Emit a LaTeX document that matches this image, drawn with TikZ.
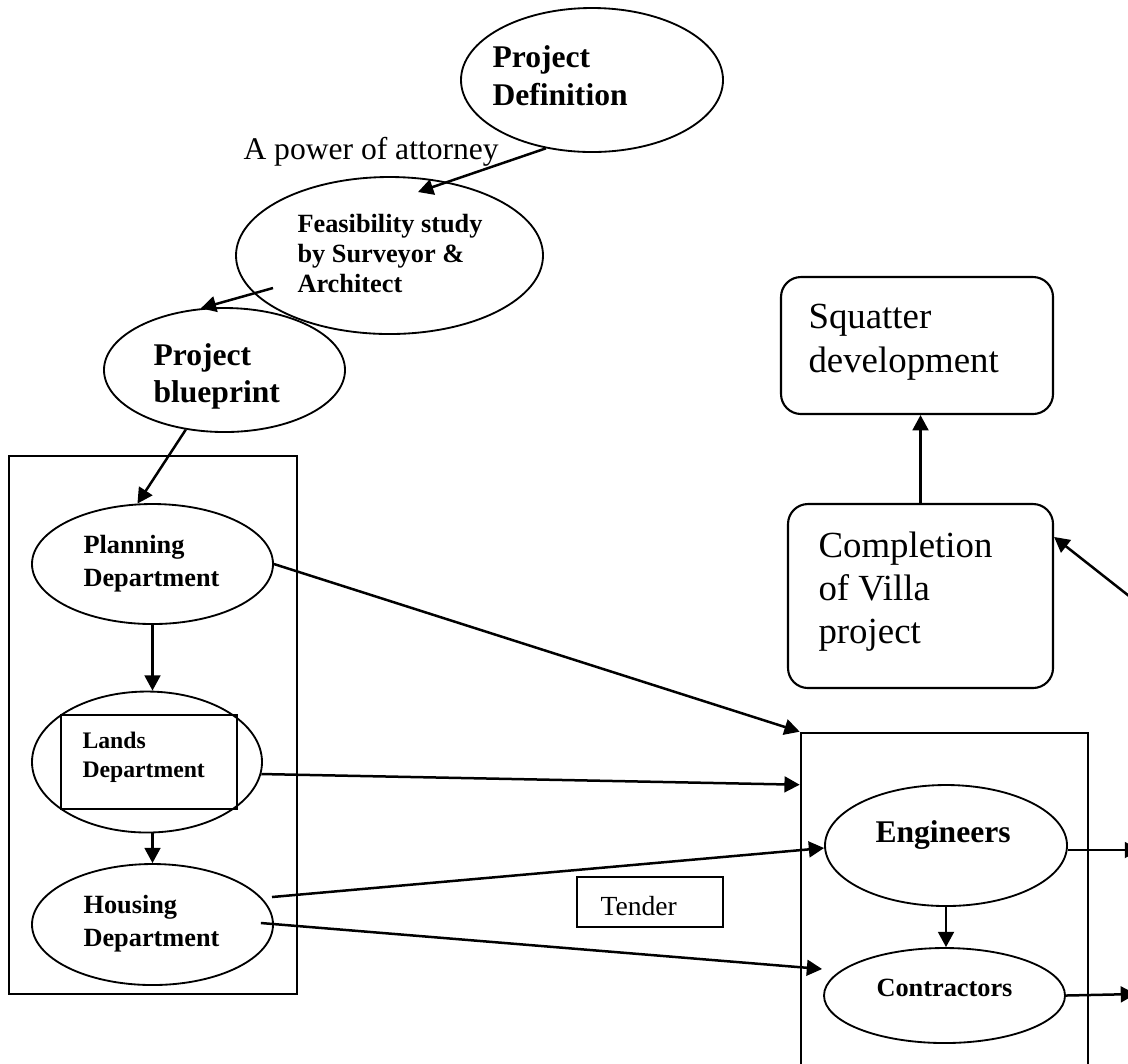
\documentclass[tikz,border=0pt]{standalone}
\usepackage{fontspec}
\setmainfont{Liberation Serif}
\usetikzlibrary{arrows.meta, shapes.geometric, calc}

\begin{document}
\begin{tikzpicture}[x=0.38pt, y=-0.38pt,
		>={Triangle[length=5.8pt,width=6pt]}, %Pfeilspitzen
		ovalnode/.style 2 args={draw, ellipse, line width=0.7pt, inner sep=0pt, minimum width=#1*0.38pt, minimum height=#2*0.38pt},
		framebox/.style 2 args={draw, rectangle, line width=1pt, inner sep=0pt, minimum width=#1*0.38pt, minimum height=#2*0.38pt},
		roundbox/.style 2 args={framebox={#1}{#2}, rounded corners=7.6pt, line width=0.8pt},
		txt/.style={anchor=base west, inner sep=0pt, align=left},
		conn/.style={->, line width=0.95pt}]
		%Bildbereich
		\useasboundingbox (0,0) rectangle (1128,1063);
		\clip (0,0) rectangle (1128,1063);
		%Projekt oben
		\node[ovalnode={262}{144}] (pdef) at (592,80) {};
		\node[txt, font=\bfseries\fontsize{12}{14.4}\selectfont] (pdef-t) at (492,105) {Project\\Definition};
		\node[txt, font=\fontsize{12}{14.4}\selectfont] (poa) at (243,159) {A power of attorney};
		\node[ovalnode={307}{157}] (feas) at (389.5,255.5) {};
		\node[txt, font=\bfseries\fontsize{10}{11.4}\selectfont] (feas-t) at (297,292) {Feasibility study\\by Surveyor \&\\Architect};
		\node[ovalnode={241}{124}] (blue) at (224.5,370) {};
		\node[txt, font=\bfseries\fontsize{12}{14}\selectfont] (blue-t) at (153,402) {Project\\blueprint};
		%Behoerden links
		\node[framebox={288}{538}] (dept) at (153,725) {};
		\node[ovalnode={241}{120}] (plan) at (152.5,564) {};
		\node[txt, font=\bfseries\fontsize{10}{12.5}\selectfont] (plan-t) at (83,586) {Planning\\Department};
		\node[ovalnode={230}{141}] (lands) at (147,762) {};
		\node[framebox={176}{94}] (lands-r) at (149,762) {};
		\node[txt, font=\bfseries\fontsize{9}{11}\selectfont] (lands-t) at (82,777) {Lands\\Department};
		\node[ovalnode={241}{121}] (hous) at (152.5,924.5) {};
		\node[txt, font=\bfseries\fontsize{10}{12.2}\selectfont] (hous-t) at (83,946) {Housing\\Department};
		%Ausfuehrung rechts
		\node[framebox={287}{360}] (exec) at (944.5,913) {};
		\node[ovalnode={242}{121}] (eng) at (946,845.5) {};
		\node[txt, font=\bfseries\fontsize{12}{14.4}\selectfont] (eng-t) at (875,842) {Engineers};
		\node[ovalnode={241}{95}] (cont) at (944.5,995.5) {};
		\node[txt, font=\bfseries\fontsize{10}{12}\selectfont] (cont-t) at (876,996) {Contractors};
		\node[framebox={146}{50}] (tender) at (650,902) {};
		\node[txt, font=\fontsize{10.5}{12.6}\selectfont] (tender-t) at (600,915) {Tender};
		%Ergebnis
		\node[roundbox={272}{137}] (squat) at (917,345.5) {};
		\node[txt, font=\fontsize{14}{16.7}\selectfont] (squat-t) at (808,372) {Squatter\\development};
		\node[roundbox={265}{184}] (compl) at (920.5,596) {};
		\node[txt, font=\fontsize{14}{16.3}\selectfont] (compl-t) at (818,643) {Completion\\of Villa\\project};
		%freie Enden
		\coordinate (eng-out) at (1140,850);
		\coordinate (cont-out) at (1136,994);
		\coordinate (compl-in) at (1143,607);
		%Pfeile
		\draw[conn] (pdef.236) -- ($(feas.center)+(28.5,-63.5)$);
		\draw[conn] ($(feas.center)+(-116.5,32.5)$) -- (blue.111);
		\draw[conn] (blue.237) -- (plan.104);
		\draw[conn] (plan.south) -- (plan.south |- lands.north);
		\draw[conn] (hous.north |- lands.south) -- (hous.north);
		\draw[conn] (plan.east) -- (exec.north west);
		\draw[conn] (lands.-6) -- ($(exec.north west)+(0,53)$);
		\draw[conn] ($(hous.center)+(119.5,-27.5)$) -- ($(eng.west)+(0,2.5)$);
		\draw[conn] ($(hous.east)+(-13,-1.5)$) -- ($(cont.west)+(-1,-26.5)$);
		\draw[conn] (eng.south) -- (eng.south |- cont.north);
		\draw[conn] ($(eng.east)+(0,4.5)$) -- (eng-out);
		\draw[conn] (cont.east) -- (cont-out);
		\draw[conn] (compl-in) -- ($(compl.north east)+(0,34)$);
		\draw[conn] (compl.north) -- (compl.north |- squat.south);
	\end{tikzpicture}
\end{document}
